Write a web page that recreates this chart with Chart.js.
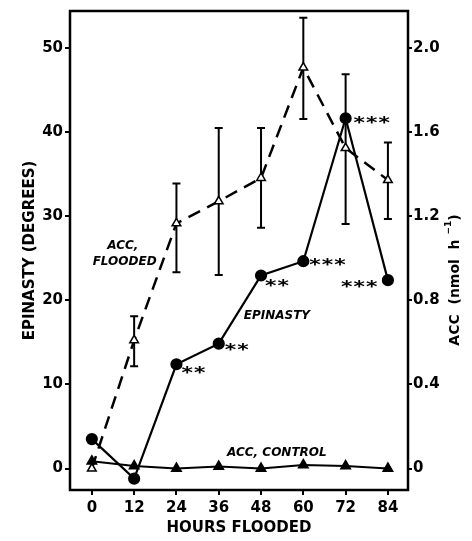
<!DOCTYPE html>
<html><head><meta charset="utf-8">
<script src="https://cdn.jsdelivr.net/npm/chart.js@4/dist/chart.umd.min.js"></script>
<style>html,body{margin:0;padding:0;background:#fff}#wrap{width:472px;height:541px}</style>
</head><body><div id="wrap"><canvas id="c" width="472" height="541"></canvas></div>
<script>
const hours = [0, 12, 24, 36, 48, 60, 72, 84];
const xTickLabels = ['0', '12', '24', '36', '48', '60', '72', '84'];
const epinasty = [3.5, -1.2, 12.4, 14.85, 22.95, 24.65, 41.65, 22.4];
const epinastyStars = [0, 0, 2, 2, 2, 3, 3, 3];
const accFlooded = [0.0, 0.61, 1.166, 1.271, 1.382, 1.907, 1.524, 1.372];
const accFloodedHigh = [null, 0.724, 1.356, 1.619, 1.619, 2.144, 1.875, 1.551];
const accFloodedLow = [null, 0.486, 0.934, 0.921, 1.145, 1.662, 1.163, 1.187];
const accControl = [0.035, 0.012, 0.0, 0.01, 0.0, 0.017, 0.012, 0.0];
const leftTicks = [0, 10, 20, 30, 40, 50];
const rightTicks = [0, 0.4, 0.8, 1.2, 1.6, 2.0];
const rightTickLabels = ['0', '0.4', '0.8', '1.2', '1.6', '2.0'];

const FONT = "'DejaVu Sans', sans-serif";

const pts = arr => hours.map((h, i) => ({x: h, y: arr[i]}));

const frame = {
  id: 'frame',
  beforeDatasetsDraw(chart) {
    const {ctx, chartArea: a, scales} = chart;
    ctx.save();
    ctx.strokeStyle = '#000';
    ctx.lineWidth = 2.5;
    ctx.strokeRect(a.left, a.top, a.right - a.left, a.bottom - a.top);
    ctx.lineWidth = 2;
    hours.forEach((h, i) => {
      if (accFloodedHigh[i] == null) return;
      const x = scales.x.getPixelForValue(h);
      const y1 = scales.y2.getPixelForValue(accFloodedHigh[i]);
      const y2 = scales.y2.getPixelForValue(accFloodedLow[i]);
      ctx.beginPath();
      ctx.moveTo(x, y1); ctx.lineTo(x, y2);
      ctx.moveTo(x - 4, y1); ctx.lineTo(x + 4, y1);
      ctx.moveTo(x - 4, y2); ctx.lineTo(x + 4, y2);
      ctx.stroke();
    });
    ctx.restore();
  },
  afterDraw(chart) {
    const {ctx, scales} = chart;
    const X = v => scales.x.getPixelForValue(v);
    const Y = v => scales.y.getPixelForValue(v);
    ctx.save();
    ctx.fillStyle = '#000';
    ctx.font = `italic bold 12px ${FONT}`;
    ctx.textAlign = 'center';
    ctx.textBaseline = 'middle';
    ctx.fillText('ACC,', X(8.8), Y(26.5));
    ctx.fillText('FLOODED', X(9.3), Y(24.6));
    ctx.fillText('EPINASTY', X(52.5), Y(18.1));
    ctx.fillText('ACC, CONTROL', X(52.5), Y(1.9));
    // significance stars: start offset (px) and vertical offset relative to each point
    const starDx = [0, 0, 5, 6, 4, 6, 8, -47];
    const starDy = [0, 0, 5, 3, 7, 0, 1, 3];
    ctx.font = `italic bold 19px ${FONT}`;
    ctx.textAlign = 'left';
    ctx.textBaseline = 'middle';
    hours.forEach((h, i) => {
      const n = epinastyStars[i];
      for (let k = 0; k < n; k++) {
        ctx.save();
        ctx.translate(X(h) + starDx[i] + k * 12.5, Y(epinasty[i]) + starDy[i]);
        ctx.scale(1.15, 0.8);
        ctx.fillText('*', 0, 6);
        ctx.restore();
      }
    });
    // right axis title
    ctx.translate(455, 280);
    ctx.rotate(-Math.PI / 2);
    ctx.textAlign = 'left';
    ctx.textBaseline = 'middle';
    const big = `bold 14px ${FONT}`, small = `bold 9px ${FONT}`;
    const parts = [['ACC  (nmol  h ', big, 0], ['\u22121', small, -6], [')', big, 0]];
    let w = 0;
    parts.forEach(p => { ctx.font = p[1]; w += ctx.measureText(p[0]).width; });
    let cx = -w / 2;
    parts.forEach(p => { ctx.font = p[1]; ctx.fillText(p[0], cx, p[2]); cx += ctx.measureText(p[0]).width; });
    ctx.restore();
  }
};

const gridOpts = {drawOnChartArea: false, drawTicks: true, tickLength: 5, color: '#000', lineWidth: 2};
const tickFont = {family: FONT, size: 15, weight: 'bold'};
const titleFont = {family: FONT, size: 15, weight: 'bold'};

new Chart(document.getElementById('c'), {
  type: 'line',
  data: {
    datasets: [
      {label: 'Epinasty', data: pts(epinasty), yAxisID: 'y', borderColor: '#000', backgroundColor: '#000',
       borderWidth: 2.2, pointStyle: 'circle', pointRadius: 5, pointBackgroundColor: '#000', tension: 0},
      {label: 'ACC, flooded', data: pts(accFlooded), yAxisID: 'y2', borderColor: '#000', borderWidth: 2.5,
       borderDash: [13, 8], pointStyle: 'triangle', pointRadius: 5, pointBackgroundColor: '#fff',
       pointBorderColor: '#000', pointBorderWidth: 1.5, tension: 0},
      {label: 'ACC, control', data: pts(accControl), yAxisID: 'y2', borderColor: '#000', borderWidth: 2,
       pointStyle: 'triangle', pointRadius: 5, pointBackgroundColor: '#000', pointBorderColor: '#000', tension: 0}
    ]
  },
  options: {
    responsive: false,
    animation: false,
    layout: {padding: {top: 10, left: 0, right: 0, bottom: 0}},
    plugins: {legend: {display: false}, tooltip: {enabled: false}},
    scales: {
      x: {
        type: 'linear', position: 'bottom', min: -6.2, max: 89.7,
        afterBuildTicks: s => { s.ticks = hours.map(v => ({value: v})); },
        afterFit: s => { s.height = 51; },
        grid: gridOpts, border: {display: false},
        ticks: {color: '#000', font: tickFont, padding: 4, maxRotation: 0,
                callback: v => xTickLabels[hours.indexOf(v)]},
        title: {display: true, text: 'HOURS FLOODED', color: '#000', font: titleFont,
                padding: {top: 0, bottom: 4}}
      },
      y: {
        type: 'linear', position: 'left', min: -2.55, max: 54.4,
        afterBuildTicks: s => { s.ticks = leftTicks.map(v => ({value: v})); },
        afterFit: s => { s.width = 70; },
        grid: gridOpts, border: {display: false},
        ticks: {color: '#000', font: tickFont, padding: 2,
                callback: v => String(v)},
        title: {display: true, text: 'EPINASTY (DEGREES)', color: '#000', font: titleFont,
                padding: {top: 21, bottom: 0}}
      },
      y2: {
        type: 'linear', position: 'right', min: -0.102, max: 2.176,
        afterBuildTicks: s => { s.ticks = rightTicks.map(v => ({value: v})); },
        afterFit: s => { s.width = 64; },
        grid: Object.assign({}, gridOpts, {tickLength: 4}), border: {display: false},
        ticks: {color: '#000', font: tickFont, padding: 1,
                callback: v => rightTickLabels[rightTicks.indexOf(v)]},
        title: {display: false}
      }
    }
  },
  plugins: [frame]
});
</script></body></html>
